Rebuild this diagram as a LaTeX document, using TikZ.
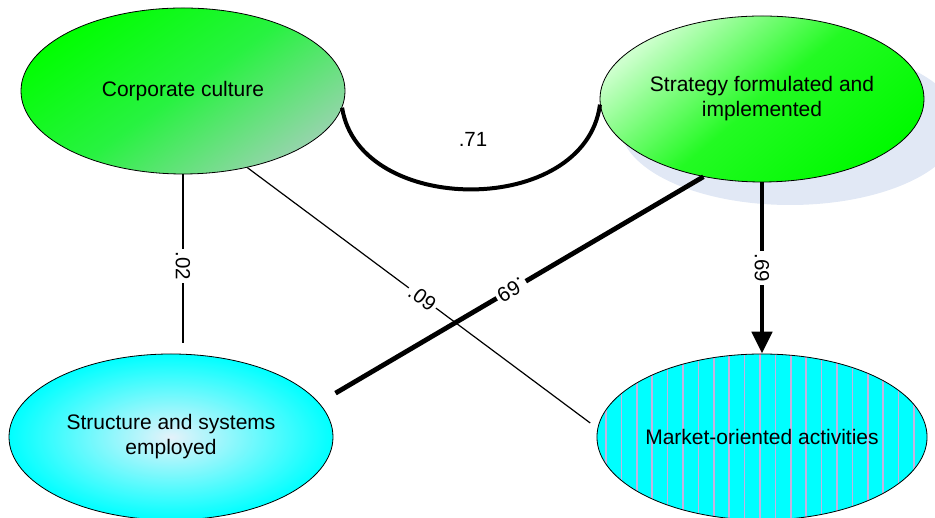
\documentclass[tikz,border=0pt]{standalone}
\usepackage{fontspec}
\setmainfont{Liberation Sans}
\usetikzlibrary{arrows.meta,shapes.geometric}
\definecolor{ccA}{RGB}{0,255,0}
\definecolor{ccM}{RGB}{40,242,65}
\definecolor{ccB}{RGB}{150,212,172}
\definecolor{sfA}{RGB}{205,255,205}
\definecolor{sfM}{RGB}{35,250,35}
\definecolor{sfB}{RGB}{0,250,0}
\definecolor{ssIn}{RGB}{228,242,250}
\definecolor{cyanF}{RGB}{0,255,255}
\definecolor{stripeC}{RGB}{195,180,225}
\definecolor{shadowC}{RGB}{225,232,245}
\begin{document}
\begin{tikzpicture}[x=1pt,y=1pt,
  oval/.style={ellipse, draw=black, line width=0.8pt, minimum width=324pt, minimum height=166pt, inner sep=0pt, align=center, font=\fontsize{21}{25}\selectfont},
  lbl/.style={fill=white, inner sep=2.5pt, font=\fontsize{20.5}{24}\selectfont, sloped, allow upside down},
  plain/.style={font=\fontsize{20.5}{24}\selectfont},
  thinline/.style={line width=1.2pt},
  thickline/.style={line width=4.8pt},
  arcline/.style={line width=4pt},
  stripe/.style={draw=stripeC, line width=1.5pt}
]
\useasboundingbox (0,0) rectangle (935,518);

% shadow of the strategy ellipse
\fill[shadowC] (790,393) ellipse [x radius=170, y radius=80];

\node[oval, top color=ccA, bottom color=ccB, middle color=ccM, shading angle=35] (cc) at (183,427) {Corporate culture};

\node[oval, top color=sfA, bottom color=sfB, middle color=sfM, shading angle=40] (sf) at (762,419) {Strategy formulated and\\implemented};

\node[oval, inner color=ssIn, outer color=cyanF] (ss) at (171,81) {Structure and systems\\employed};

\node[oval, fill=cyanF, path picture={
   \foreach \i in {-11,...,11}
     \draw[stripe] ([xshift=\i*15.4pt-2pt]path picture bounding box.north) -- ([xshift=\i*15.4pt-2pt]path picture bounding box.south);
  }] (mo) at (762,81) {Market-oriented activities};

\draw[thinline, shorten >=11pt] (cc.south) -- node[lbl, pos=0.51] {.02} (cc.south |- ss.north);
\draw[thinline, shorten >=9pt] (cc.-50.3) -- node[lbl, pos=0.5] {.09} (mo.177.7);
\draw[thickline, shorten >=19pt] (sf.233.5) -- node[lbl, pos=0.5] {.69} (ss.13.3);
\draw[thickline, -{Triangle[width=20pt,length=22pt]}] (sf.south) -- node[lbl, pos=0.5] {.69} (mo.north);
\draw[arcline] (cc.-6.5) .. controls +(17,-109) and +(-15,-113) .. (sf.182);
\node[plain] (l71) at (473,379) {.71};
\end{tikzpicture}
\end{document}
